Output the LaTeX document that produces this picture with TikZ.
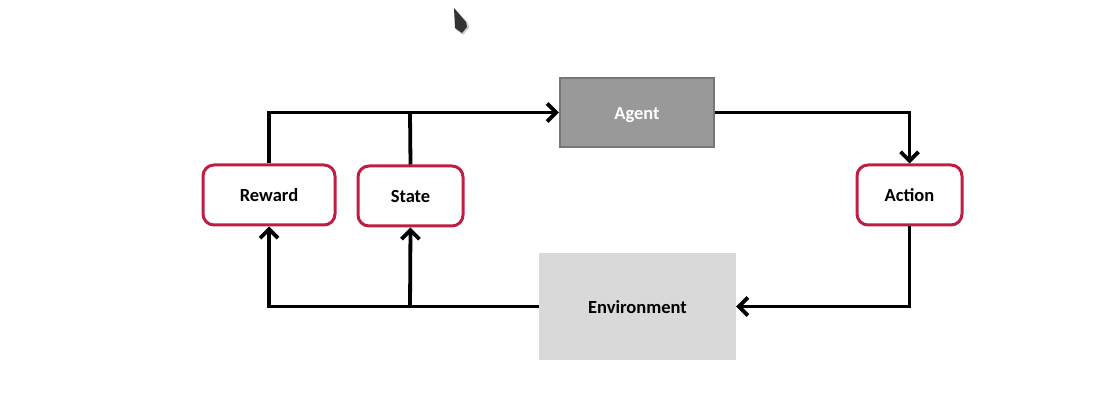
\documentclass[tikz,border=0pt]{standalone}
\usepackage{fontspec}
\setmainfont{Carlito}
\usetikzlibrary{arrows.meta}
\definecolor{boxred}{HTML}{BE1E42}
\definecolor{agentgray}{HTML}{999999}
\definecolor{agentline}{HTML}{777777}
\definecolor{envgray}{HTML}{D9D9D9}
\newcommand{\boxtext}[1]{\raisebox{-6.8pt}[0pt][0pt]{#1}}
\begin{document}
\begin{tikzpicture}[x=1pt,y=-1pt,
  boxfont/.style={font=\bfseries\fontsize{18.5}{20}\selectfont},
  redbox/.style={draw=boxred,line width=3pt,rounded corners=11pt,fill=white,boxfont},
  flow/.style={line width=3.8pt,-{Straight Barb[length=9pt,width=18pt,line width=3.8pt]}},
  link/.style={line width=3.8pt}]
\useasboundingbox (0,0) rectangle (1095,406);
% mouse pointer
\fill[gray!40] (455,9) -- (468,23) -- (469,28) -- (463,35) -- (456,30) -- cycle;
\fill[black!80] (454,8) -- (466,22) -- (467,27) -- (462,33) -- (455,28) -- cycle;
\node[draw=agentline,fill=agentgray,line width=2.5pt,minimum width=154pt,minimum height=69pt,text=white,boxfont] (agent) at (637,112.5) {\boxtext{Agent}};
\node[fill=envgray,minimum width=197pt,minimum height=107pt,boxfont] (env) at (637.5,306.5) {\boxtext{Environment}};
\node[redbox,minimum width=132pt,minimum height=60pt] (reward) at (269,195) {\boxtext{Reward}};
\node[redbox,minimum width=105pt,minimum height=60pt] (state) at (410.5,196) {\boxtext{State}};
\node[redbox,minimum width=105pt,minimum height=60pt] (action) at (909.5,195) {\boxtext{Action}};
\coordinate (top) at (410,113);
\coordinate (bottom) at (410,307);
\draw[flow] (reward.north) |- (agent.west);
\draw[link] (state.north) -- (top);
\draw[flow] (agent.east) -| (action.north);
\draw[flow] (action.south) |- (env.east);
\draw[flow] (env.west) -| (reward.south);
\draw[flow] (bottom) -- (state.south);
\end{tikzpicture}
\end{document}
